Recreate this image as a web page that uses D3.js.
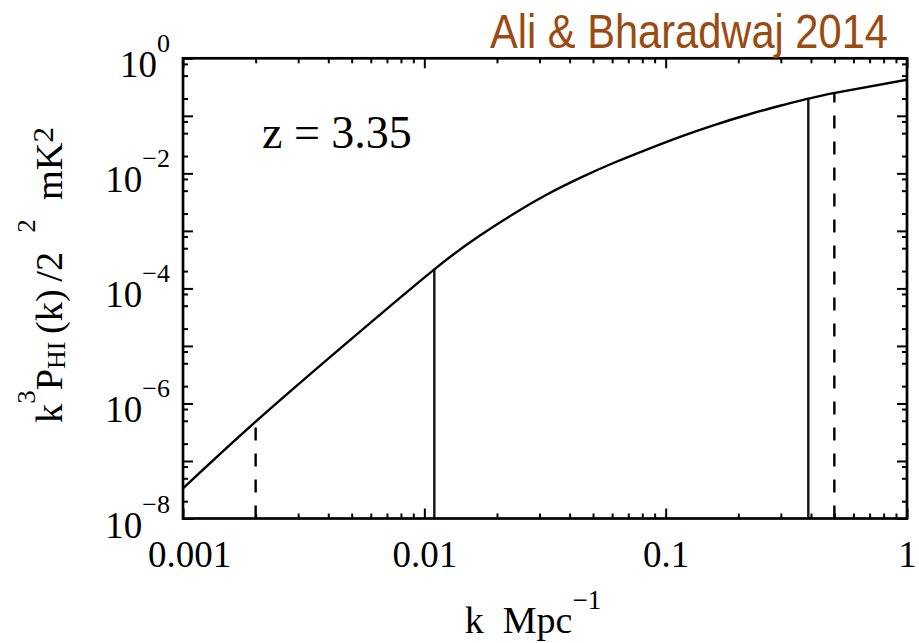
<!DOCTYPE html>
<html>
<head>
<meta charset="utf-8">
<script src="https://cdn.jsdelivr.net/npm/d3@7"></script>
<style>
  body { margin: 0; background: #fff; }
  svg { display: block; }
</style>
</head>
<body>
<div id="chart"></div>
<script>
// curve
const kValues = [0.001, 0.002, 0.00477, 0.01107, 0.0170, 0.0234, 0.0322, 0.0442, 0.0607, 0.0835, 0.1147, 0.1577, 0.2168, 0.298, 0.394, 0.503, 1.0];
const powerValues = [3.35e-8, 4.83e-7, 1.13e-5, 2.19e-4, 8.32e-4, 1.97e-3, 4.28e-3, 8.34e-3, 0.01514, 0.02594, 0.04315, 0.0684, 0.1033, 0.1496, 0.2004, 0.250, 0.4236];

// vertical marker lines
const markerK = [0.002, 0.011, 0.39, 0.5];
const markerTop = [4.8e-7, 2.2e-4, 0.2, 0.25];
const markerDashed = [true, false, false, true];

// ticks
const xMajor = [0.001, 0.01, 0.1, 1];
const xMinor = [-3, -2, -1].flatMap(e => [2, 3, 4, 5, 6, 7, 8, 9].map(m => m * Math.pow(10, e)));
const yExponents = [-8, -7, -6, -5, -4, -3, -2, -1, 0];
const yLabelExponents = [-8, -6, -4, -2, 0];
const yMinor = [-8, -7, -6, -5, -4, -3, -2, -1].flatMap(e => [2, 5, 8].map(m => m * Math.pow(10, e)));

const title = "Ali & Bharadwaj 2014";
const zLabel = "z = 3.35";

const width = 919, height = 643;
const plot = { left: 183, right: 907, top: 58.3, bottom: 518.5 };
const serif = "'Liberation Serif', 'Times New Roman', serif";

const svg = d3.select("#chart").append("svg")
    .attr("width", width)
    .attr("height", height);

svg.append("rect").attr("width", width).attr("height", height).attr("fill", "#fff");

const x = d3.scaleLog().domain([0.001, 1]).range([plot.left, plot.right]);
const y = d3.scaleLog().domain([1e-8, 1]).range([plot.bottom, plot.top]);

svg.append("clipPath").attr("id", "clip")
    .append("rect")
    .attr("x", plot.left).attr("y", plot.top)
    .attr("width", plot.right - plot.left).attr("height", plot.bottom - plot.top);

/*
 *  Ticks on all four sides, pointing inward.
 */
function styleAxis(g) {
    g.select(".domain").remove();
    g.selectAll(".tick line").attr("stroke", "#000").attr("stroke-width", 2);
    g.selectAll(".tick text").attr("font-family", serif).attr("font-size", 37).attr("fill", "#000");
}

svg.append("g").attr("transform", "translate(0," + plot.bottom + ")")
    .call(d3.axisBottom(x).tickValues(xMinor).tickSize(-5).tickFormat(""))
    .call(styleAxis);
svg.append("g").attr("transform", "translate(0," + plot.bottom + ")")
    .call(d3.axisBottom(x).tickValues(xMajor).tickSize(-10).tickPadding(22).tickFormat(d => String(d)))
    .call(styleAxis)
    .call(g => g.selectAll(".tick text").filter(d => d === 0.001).attr("dx", 6));
svg.append("g").attr("transform", "translate(0," + plot.top + ")")
    .call(d3.axisTop(x).tickValues(xMinor).tickSize(-5).tickFormat(""))
    .call(styleAxis);
svg.append("g").attr("transform", "translate(0," + plot.top + ")")
    .call(d3.axisTop(x).tickValues(xMajor).tickSize(-10).tickFormat(""))
    .call(styleAxis);

const yMajor = yExponents.map(e => Math.pow(10, e));

svg.append("g").attr("transform", "translate(" + plot.left + ",0)")
    .call(d3.axisLeft(y).tickValues(yMinor).tickSize(-5).tickFormat(""))
    .call(styleAxis);
const yAxis = svg.append("g").attr("transform", "translate(" + plot.left + ",0)")
    .call(d3.axisLeft(y).tickValues(yMajor).tickSize(-10).tickPadding(13).tickFormat(""))
    .call(styleAxis);
svg.append("g").attr("transform", "translate(" + plot.right + ",0)")
    .call(d3.axisRight(y).tickValues(yMinor).tickSize(-5).tickFormat(""))
    .call(styleAxis);
svg.append("g").attr("transform", "translate(" + plot.right + ",0)")
    .call(d3.axisRight(y).tickValues(yMajor).tickSize(-10).tickFormat(""))
    .call(styleAxis);

// powers of ten as 10 with a superscript
yAxis.selectAll(".tick text").each(function(d) {
    let e = Math.round(Math.log10(d));
    if(!yLabelExponents.includes(e)) {
        return;
    }
    let t = d3.select(this).attr("dy", "0.5em");
    t.append("tspan").text("10");
    t.append("tspan").attr("font-size", 26).attr("dy", -25).text(String(e).replace("-", "\u2212"));
});

/*
 *  Curve and marker lines.
 */
const curveData = kValues.map((k, i) => ({ k: k, p: powerValues[i] }));

const line = d3.line()
    .x(d => x(d.k))
    .y(d => y(d.p))
    .curve(d3.curveNatural);

svg.append("path")
    .datum(curveData)
    .attr("clip-path", "url(#clip)")
    .attr("d", line)
    .attr("fill", "none")
    .attr("stroke", "#000")
    .attr("stroke-width", 2.4);

markerK.forEach((k, i) => {
    svg.append("path")
        .attr("d", "M" + x(k) + "," + y(1e-8) + "V" + y(markerTop[i]))
        .attr("stroke", markerDashed[i] ? "#000" : "#111")
        .attr("stroke-width", markerDashed[i] ? 2.4 : 2.4)
        .attr("stroke-dasharray", markerDashed[i] ? "13,13" : null);
});

// frame
svg.append("rect")
    .attr("x", plot.left).attr("y", plot.top)
    .attr("width", plot.right - plot.left).attr("height", plot.bottom - plot.top)
    .attr("fill", "none")
    .attr("stroke", "#000")
    .attr("stroke-width", 2.7);

/*
 *  Texts.
 */
let titleText = svg.append("text")
    .attr("x", 0).attr("y", 0)
    .attr("font-family", "'Liberation Sans Narrow', 'Liberation Sans', Arial, sans-serif")
    .attr("font-size", 49)
    .attr("fill", "#9a4b12")
    .text(title);
let titleLen = titleText.node().getComputedTextLength();
titleText.attr("transform", "translate(490,48) scale(" + (398 / titleLen) + ",1)");

svg.append("text")
    .attr("x", 262).attr("y", 148)
    .attr("font-family", serif)
    .attr("font-size", 46)
    .text(zLabel);

let xTitle = svg.append("text")
    .attr("x", 533).attr("y", 633)
    .attr("text-anchor", "middle")
    .attr("font-family", serif)
    .attr("font-size", 38);
xTitle.append("tspan").text("k\u00a0\u00a0Mpc");
xTitle.append("tspan").attr("font-size", 27).attr("dy", -24).text("\u22121");

let yTitle = svg.append("text")
    .attr("text-anchor", "middle")
    .attr("font-family", serif)
    .attr("font-size", 37);
yTitle.append("tspan").text("k");
yTitle.append("tspan").attr("font-size", 26).attr("dy", -27).text("3");
yTitle.append("tspan").attr("dy", 27).text("P");
yTitle.append("tspan").attr("font-size", 25).attr("dy", 3).text("HI");
yTitle.append("tspan").attr("dy", -3).text("\u2009(k)\u2009/2\u00a0\u00a0");
yTitle.append("tspan").attr("font-size", 26).attr("dy", -27).text("2");
yTitle.append("tspan").attr("dy", 27).text("\u00a0\u00a0mK");
yTitle.append("tspan").attr("font-size", 30).attr("dy", -9).text("2");

let yLen = yTitle.node().getComputedTextLength();
yTitle.attr("transform", "translate(62,275) rotate(-90) scale(" + (296 / yLen) + ",1)");
</script>
</body>
</html>
